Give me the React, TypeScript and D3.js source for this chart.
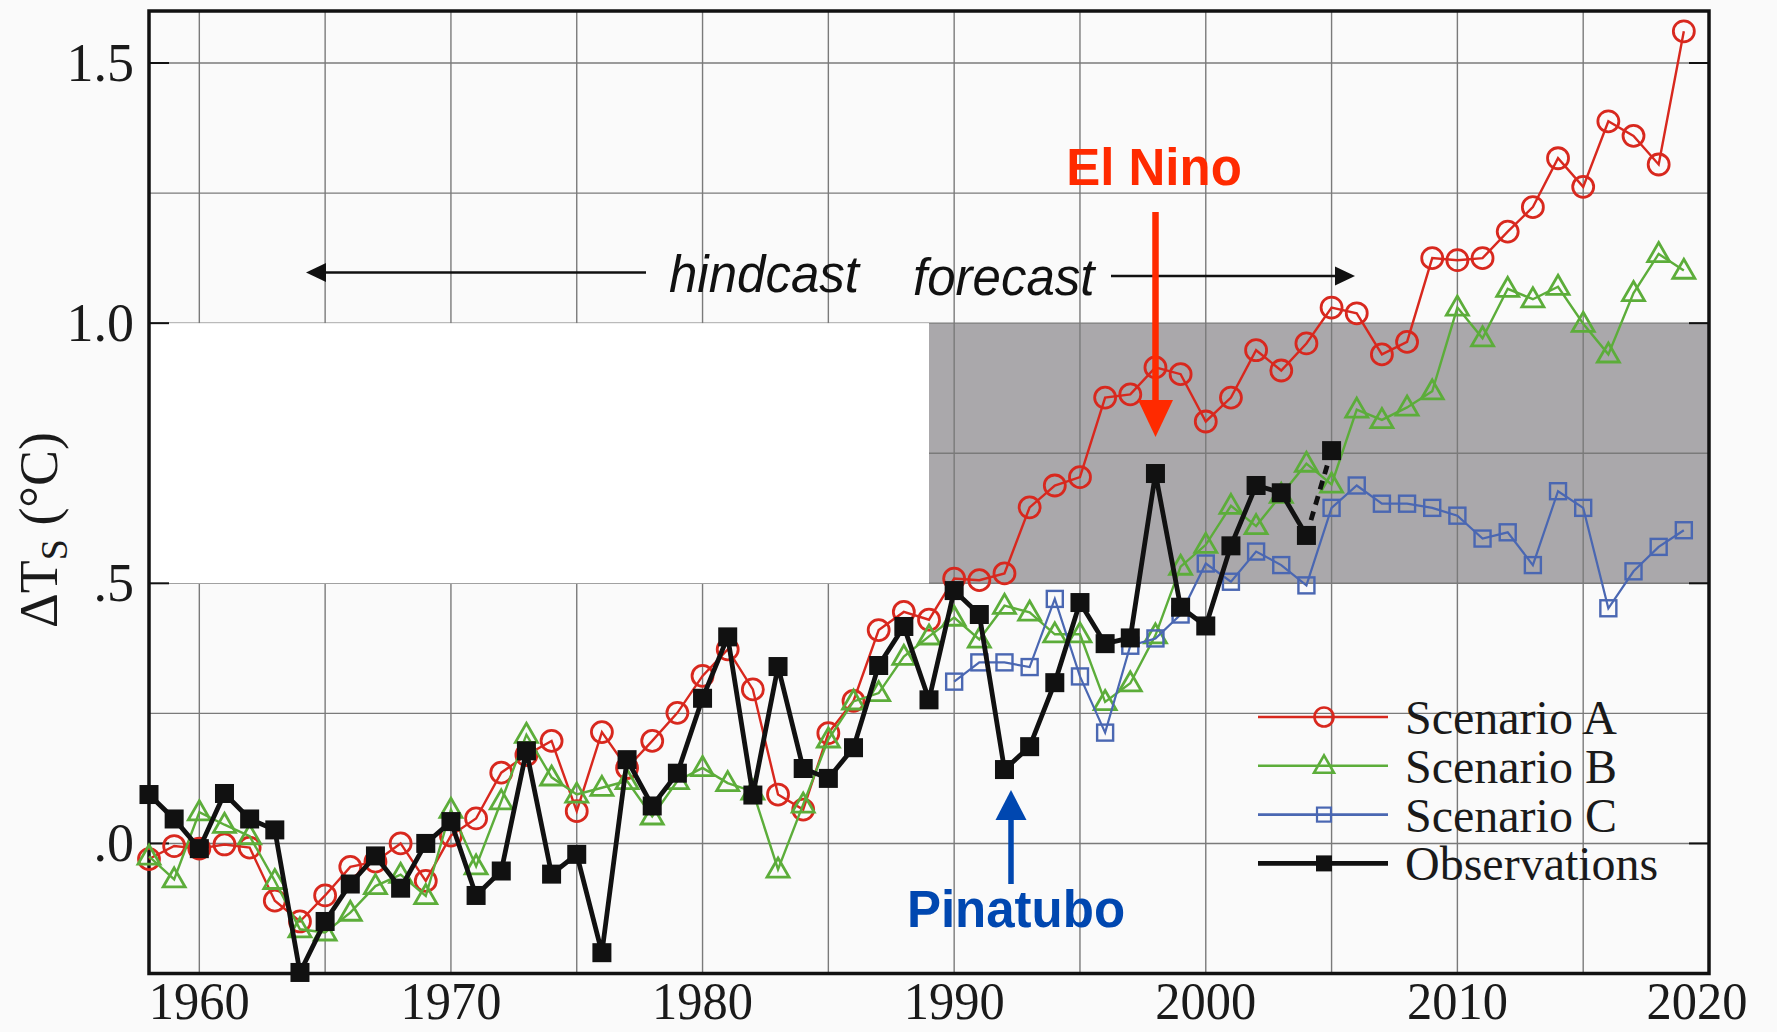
import React from 'react';
import * as d3 from 'd3';

// ---- data -------------------------------------------------------------
const scenarioStartYear = 1958;
const scenarioA = [
  -0.03, -0.005, -0.01, -0.002, -0.008, -0.11, -0.15, -0.1, -0.045, -0.035,
  0.0, -0.072, 0.015, 0.048, 0.136, 0.17, 0.197, 0.062, 0.214, 0.145,
  0.197, 0.251, 0.322, 0.373, 0.296, 0.094, 0.065, 0.212, 0.274, 0.41,
  0.445, 0.43, 0.509, 0.506, 0.519, 0.646, 0.688, 0.704, 0.857, 0.863,
  0.915, 0.902, 0.811, 0.857, 0.948, 0.909, 0.961, 1.03, 1.019, 0.94,
  0.964, 1.125, 1.121, 1.125, 1.176, 1.223, 1.317, 1.262, 1.388, 1.36,
  1.305, 1.561,
];
const scenarioB = [
  -0.025, -0.069, 0.06, 0.036, 0.014, -0.072, -0.165, -0.171, -0.133, -0.082,
  -0.06, -0.101, 0.065, -0.044, 0.081, 0.209, 0.127, 0.094, 0.107, 0.12,
  0.052, 0.12, 0.145, 0.116, 0.1, -0.05, 0.075, 0.2, 0.273, 0.289,
  0.359, 0.398, 0.434, 0.392, 0.457, 0.444, 0.402, 0.402, 0.272, 0.308,
  0.4, 0.532, 0.574, 0.649, 0.61, 0.67, 0.73, 0.69, 0.834, 0.814,
  0.838, 0.869, 1.03, 0.971, 1.066, 1.046, 1.07, 0.999, 0.94, 1.058,
  1.133, 1.101,
];
const scenarioCStartYear = 1990;
const scenarioC = [
  0.311, 0.348, 0.348, 0.339, 0.47, 0.321, 0.213, 0.38, 0.394, 0.44,
  0.538, 0.503, 0.561, 0.535, 0.496, 0.645, 0.688, 0.653, 0.653, 0.645,
  0.63, 0.586, 0.598, 0.535, 0.677, 0.645, 0.452, 0.523, 0.57, 0.602,
];
const obsStartYear = 1958;
const observations = [
  0.094, 0.047, -0.01, 0.096, 0.047, 0.026, -0.248, -0.15, -0.078, -0.024,
  -0.086, 0.0, 0.042, -0.1, -0.053, 0.178, -0.059, -0.021, -0.21, 0.161,
  0.072, 0.135, 0.279, 0.397, 0.093, 0.34, 0.144, 0.125, 0.184, 0.342,
  0.417, 0.276, 0.486, 0.44, 0.142, 0.186, 0.309, 0.463, 0.384, 0.395,
  0.711, 0.454, 0.418, 0.572, 0.688, 0.674, 0.592, 0.755,
];

const xTickYears = [1960, 1970, 1980, 1990, 2000, 2010, 2020];
const xGridYears = [1960, 1965, 1970, 1975, 1980, 1985, 1990, 1995, 2000, 2005, 2010, 2015];
const yTicks = [0, 0.5, 1.0, 1.5];
const yTickLabels = ['.0', '.5', '1.0', '1.5'];
const yGrid = [0, 0.25, 0.5, 0.75, 1.0, 1.25, 1.5];
const legendLabels = ['Scenario A', 'Scenario B', 'Scenario C', 'Observations'];

// shaded band: years and temperature range
const bandStartYear = 1989;
const bandRange = [0.5, 1.0];

// ---- layout -----------------------------------------------------------
const W = 1777;
const H = 1032;
const xDomain = [1958, 2020];
const yDomain = [-0.25, 1.6];

const RED = '#d8281e';
const GREEN = '#5cad3a';
const BLUE = '#4a67b2';
const BLACK = '#111111';

type Pt = { year: number; v: number };
const toPts = (start: number, vals: number[]): Pt[] => vals.map((v, i) => ({ year: start + i, v }));

const triPath = (s: number) => {
  const h = s * 0.866;
  return `M0,${-h * 0.6}L${s / 2},${h * 0.4}L${-s / 2},${h * 0.4}Z`;
};

export default function App() {
  const x = d3.scaleLinear().domain(xDomain).range([149, 1709]);
  const y = d3.scaleLinear().domain(yDomain).range([973.5, 11]);
  const line = d3
    .line<Pt>()
    .x((d) => x(d.year))
    .y((d) => y(d.v));

  const A = toPts(scenarioStartYear, scenarioA);
  const B = toPts(scenarioStartYear, scenarioB);
  const C = toPts(scenarioCStartYear, scenarioC);
  const O = toPts(obsStartYear, observations);
  const oSolid = O.slice(0, O.length - 1);
  const oDashed = O.slice(O.length - 2);

  const [x0, x1] = x.range();
  const [yb, yt] = y.range();
  const serif = '"Liberation Serif", "Times New Roman", serif';
  const sans = '"Liberation Sans", Arial, sans-serif';

  const legendX0 = 1258;
  const legendX1 = 1388;
  const legendMx = 1324;
  const legendY0 = 717;
  const legendDy = 48.8;

  return (
    <svg
      width={W}
      height={H}
      viewBox={`0 0 ${W} ${H}`}
      style={{ position: 'absolute', left: 0, top: 0, display: 'block' }}
    >
      <rect x={0} y={0} width={W} height={H} fill="#fafafa" />

      {/* shaded forecast band */}
      <rect
        x={x(bandStartYear)}
        y={y(bandRange[1])}
        width={x1 - x(bandStartYear)}
        height={y(bandRange[0]) - y(bandRange[1])}
        fill="#aaa8ab"
      />

      {/* grid */}
      <g stroke="#7a7a7a" strokeWidth={1.4}>
        {xGridYears.map((yr) => (
          <line key={'gx' + yr} x1={x(yr)} x2={x(yr)} y1={yt} y2={yb} />
        ))}
        {yGrid.map((v) => (
          <line key={'gy' + v} x1={x0} x2={x1} y1={y(v)} y2={y(v)} />
        ))}
      </g>

      {/* blank panel over the hindcast half of the band */}
      <rect
        x={x0}
        y={y(bandRange[1])}
        width={x(bandStartYear) - x0}
        height={y(bandRange[0]) - y(bandRange[1])}
        fill="#ffffff"
      />

      {/* axis ticks */}
      <g stroke="#111" strokeWidth={2}>
        {yTicks.map((v) => (
          <g key={'t' + v}>
            <line x1={x0} x2={x0 + 20} y1={y(v)} y2={y(v)} />
            <line x1={x1 - 20} x2={x1} y1={y(v)} y2={y(v)} />
          </g>
        ))}
      </g>

      {/* frame */}
      <rect x={x0} y={yt} width={x1 - x0} height={yb - yt} fill="none" stroke="#111" strokeWidth={3.5} />

      {/* tick labels */}
      <g fontFamily={serif} fill="#1a1a1a">
        {yTicks.map((v, i) => (
          <text key={'yl' + v} x={134} y={y(v) + 18} textAnchor="end" fontSize={54}>
            {yTickLabels[i]}
          </text>
        ))}
        {xTickYears.map((yr) => (
          <text
            key={'xl' + yr}
            x={Math.min(x(yr), W - 80)}
            y={1019}
            fontSize={52}
            textAnchor="middle"
            textLength={101}
            lengthAdjust="spacingAndGlyphs"
          >
            {yr}
          </text>
        ))}
      </g>

      {/* y axis title */}
      <text
        transform={`translate(57,530) rotate(-90)`}
        textAnchor="middle"
        fontFamily={serif}
        fontSize={54}
        fill="#1a1a1a"
      >
        ΔT
        <tspan fontSize={38} dy={10}>S</tspan>
        <tspan dy={-10}> (°C)</tspan>
      </text>

      {/* Scenario A */}
      <path d={line(A) || ''} fill="none" stroke={RED} strokeWidth={2.4} />
      {A.map((d) => (
        <circle key={'a' + d.year} cx={x(d.year)} cy={y(d.v)} r={10.5} fill="none" stroke={RED} strokeWidth={2.8} />
      ))}

      {/* Scenario B */}
      <path d={line(B) || ''} fill="none" stroke={GREEN} strokeWidth={2.4} />
      {B.map((d) => (
        <path
          key={'b' + d.year}
          d={triPath(22)}
          transform={`translate(${x(d.year)},${y(d.v)})`}
          fill="none"
          stroke={GREEN}
          strokeWidth={2.8}
          strokeLinejoin="miter"
        />
      ))}

      {/* Scenario C */}
      <path d={line(C) || ''} fill="none" stroke={BLUE} strokeWidth={2.2} />
      {C.map((d) => (
        <rect
          key={'c' + d.year}
          x={x(d.year) - 8}
          y={y(d.v) - 8}
          width={16}
          height={16}
          fill="none"
          stroke={BLUE}
          strokeWidth={2.4}
        />
      ))}

      {/* Observations */}
      <path d={line(oSolid) || ''} fill="none" stroke={BLACK} strokeWidth={4.8} strokeLinejoin="miter" />
      <path d={line(oDashed) || ''} fill="none" stroke={BLACK} strokeWidth={4.8} strokeDasharray="9,7" />
      {O.map((d) => (
        <rect key={'o' + d.year} x={x(d.year) - 9.5} y={y(d.v) - 9.5} width={19} height={19} fill={BLACK} />
      ))}

      {/* hindcast / forecast annotation */}
      <g fill="#111" stroke="#111">
        <line x1={646} x2={318} y1={272.5} y2={272.5} strokeWidth={2.5} />
        <path d="M306,272.5L326,263L326,282Z" stroke="none" />
        <line x1={1111} x2={1343} y1={276} y2={276} strokeWidth={2.5} />
        <path d="M1355,276L1335,266.5L1335,285.5Z" stroke="none" />
      </g>
      <text x={669} y={292} fontFamily={sans} fontStyle="italic" fontSize={51} fill="#111">
        hindcast
      </text>
      <text x={913} y={295} fontFamily={sans} fontStyle="italic" fontSize={51} fill="#111">
        forecast
      </text>

      {/* El Nino */}
      <text x={1154} y={185} textAnchor="middle" fontFamily={sans} fontWeight="bold" fontSize={51} fill="#ff2a00">
        El Nino
      </text>
      <line x1={1155.5} x2={1155.5} y1={212} y2={404} stroke="#ff2a00" strokeWidth={6.5} />
      <path d="M1155.5,437L1138,400L1173,400Z" fill="#ff2a00" />

      {/* Pinatubo */}
      <text x={1016} y={927} textAnchor="middle" fontFamily={sans} fontWeight="bold" fontSize={51} fill="#0047b0">
        Pinatubo
      </text>
      <line x1={1011} x2={1011} y1={884} y2={815} stroke="#0047b0" strokeWidth={5.5} />
      <path d="M1011,790L995.5,820L1026.5,820Z" fill="#0047b0" />

      {/* legend */}
      <g>
        {legendLabels.map((lab, i) => {
          const cy = legendY0 + i * legendDy;
          const col = [RED, GREEN, BLUE, BLACK][i];
          return (
            <g key={lab}>
              <line
                x1={legendX0}
                x2={legendX1}
                y1={cy}
                y2={cy}
                stroke={col}
                strokeWidth={i === 3 ? 4.8 : 2.6}
              />
              {i === 0 && <circle cx={legendMx} cy={cy} r={9.5} fill="none" stroke={RED} strokeWidth={2.6} />}
              {i === 1 && (
                <path
                  d={triPath(20)}
                  transform={`translate(${legendMx},${cy})`}
                  fill="none"
                  stroke={GREEN}
                  strokeWidth={2.6}
                />
              )}
              {i === 2 && (
                <rect x={legendMx - 7} y={cy - 7} width={14} height={14} fill="none" stroke={BLUE} strokeWidth={2.2} />
              )}
              {i === 3 && <rect x={legendMx - 8} y={cy - 8} width={16} height={16} fill={BLACK} />}
              <text x={1405} y={cy + 17} fontFamily={serif} fontSize={48} fill="#1a1a1a">
                {lab}
              </text>
            </g>
          );
        })}
      </g>
    </svg>
  );
}
